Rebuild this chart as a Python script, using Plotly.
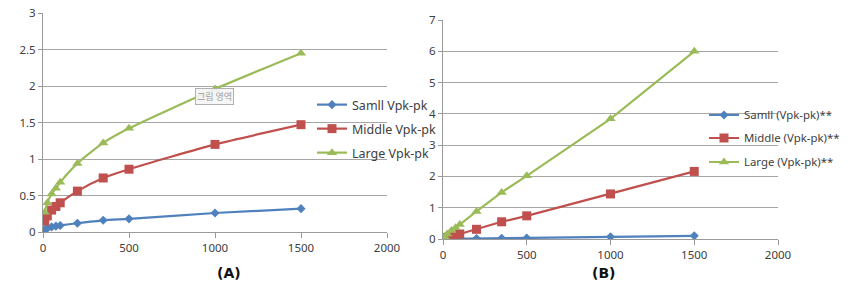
import plotly.graph_objects as go

x_vals = [10, 25, 50, 75, 100, 200, 350, 500, 1000, 1500]

a_small = [0.04, 0.05, 0.07, 0.08, 0.09, 0.12, 0.16, 0.18, 0.26, 0.32]
a_middle = [0.15, 0.22, 0.30, 0.35, 0.40, 0.56, 0.74, 0.86, 1.20, 1.47]
a_large = [0.27, 0.40, 0.52, 0.60, 0.68, 0.94, 1.22, 1.42, 1.96, 2.45]

b_small = [0.002, 0.003, 0.005, 0.006, 0.008, 0.014, 0.026, 0.032, 0.068, 0.10]
b_middle = [0.02, 0.05, 0.09, 0.12, 0.16, 0.31, 0.55, 0.74, 1.44, 2.16]
b_large = [0.07, 0.16, 0.27, 0.36, 0.46, 0.88, 1.49, 2.02, 3.84, 6.00]

names_a = ["Samll Vpk-pk", "Middle Vpk-pk", "Large Vpk-pk"]
names_b = ["Samll (Vpk-pk)**", "Middle (Vpk-pk)**", "Large (Vpk-pk)**"]

x_ticks = [0, 500, 1000, 1500, 2000]
ya_ticks = [0, 0.5, 1, 1.5, 2, 2.5, 3]
yb_ticks = [0, 1, 2, 3, 4, 5, 6, 7]

colors = ["#4F81BD", "#C0504D", "#9BBB59"]
symbols = ["diamond", "square", "triangle-up"]
msizes = [7, 9, 9]

W, H = 850, 297
OFF = 8  # page body margin


def px(x):
    return (x - OFF) / W


def py(y):
    return 1 - (y - OFF) / H


fig = go.Figure()

legend_rows_a = [105, 129, 153]
legend_rows_b = [115, 138, 162]

for i, (ys, nm, c, s, ms) in enumerate(zip([a_small, a_middle, a_large], names_a, colors, symbols, msizes)):
    fig.add_trace(go.Scatter(x=x_vals, y=ys, name=nm, mode="lines+markers",
                             line=dict(color=c, width=2.2, shape="spline", smoothing=0.6),
                             marker=dict(symbol=s, size=ms, color=c),
                             xaxis="x", yaxis="y",
                             legend="legend" if i == 0 else "legend%d" % (i + 1)))

for i, (ys, nm, c, s, ms) in enumerate(zip([b_small, b_middle, b_large], names_b, colors, symbols, msizes)):
    fig.add_trace(go.Scatter(x=x_vals, y=ys, name=nm, mode="lines+markers",
                             line=dict(color=c, width=2.2),
                             marker=dict(symbol=s, size=ms, color=c),
                             xaxis="x2", yaxis="y2", legend="legend%d" % (i + 4)))

tickfont = dict(family="Noto Sans, DejaVu Sans, sans-serif", size=11.5, color="#404040")
ax_common = dict(showgrid=False, zeroline=False, showline=True, linecolor="#9a9a9a",
                 linewidth=1, ticks="outside", ticklen=5, tickcolor="#9a9a9a",
                 tickfont=tickfont, fixedrange=True, automargin=False,
                 ticklabeloverflow="allow")
ay_common = dict(showgrid=True, gridcolor="#a6a6a6", gridwidth=1, zeroline=False,
                 showline=True, linecolor="#9a9a9a", linewidth=1, ticks="outside",
                 ticklen=4, tickcolor="#9a9a9a", tickfont=tickfont, fixedrange=True,
                 automargin=False, ticklabeloverflow="allow")

legends = {}
for i, yy in enumerate(legend_rows_a):
    key = "legend" if i == 0 else "legend%d" % (i + 1)
    legends[key] = dict(x=px(312), y=py(yy), xanchor="left", yanchor="middle",
                        bgcolor="rgba(0,0,0,0)", itemwidth=30,
                        font=dict(size=12.5, color="#404040"))
for i, yy in enumerate(legend_rows_b):
    key = "legend%d" % (i + 4)
    legends[key] = dict(x=px(704), y=py(yy), xanchor="left", yanchor="middle",
                        bgcolor="rgba(0,0,0,0)", itemwidth=30,
                        font=dict(size=11.4, color="#404040"))

fig.update_layout(
    width=W, height=H,
    margin=dict(l=0, r=0, t=0, b=0, autoexpand=False),
    paper_bgcolor="white", plot_bgcolor="white",
    font=dict(family="Noto Sans, DejaVu Sans, sans-serif", size=12, color="#404040"),
    xaxis=dict(domain=[px(43), px(387)], range=[0, 2000], tickvals=x_ticks,
               anchor="y", **ax_common),
    yaxis=dict(domain=[py(232), py(13)], range=[0, 3], tickvals=ya_ticks,
               anchor="x", **ay_common),
    xaxis2=dict(domain=[px(443), px(778)], range=[0, 2000], tickvals=x_ticks,
                anchor="y2", **ax_common),
    yaxis2=dict(domain=[py(239), py(20)], range=[0, 7], tickvals=yb_ticks,
                anchor="x2", **ay_common),
    showlegend=True,
    annotations=[
        dict(text="<b>(A)</b>", x=px(215), y=py(283), xref="paper", yref="paper",
             showarrow=False, font=dict(size=14, color="#111111", family="DejaVu Sans")),
        dict(text="<b>(B)</b>", x=px(617), y=py(283), xref="paper", yref="paper",
             showarrow=False, font=dict(size=14, color="#111111", family="DejaVu Sans")),
        dict(text="그림 영역", x=px(195), y=py(88), xref="paper", yref="paper",
             showarrow=False, bgcolor="rgba(245,245,245,0.9)", bordercolor="#b0b0b0",
             borderwidth=1, borderpad=1,
             font=dict(size=9, color="#9a9a9a", family="Noto Sans CJK KR")),
    ],
    **legends,
)

fig.write_html("out.html")
